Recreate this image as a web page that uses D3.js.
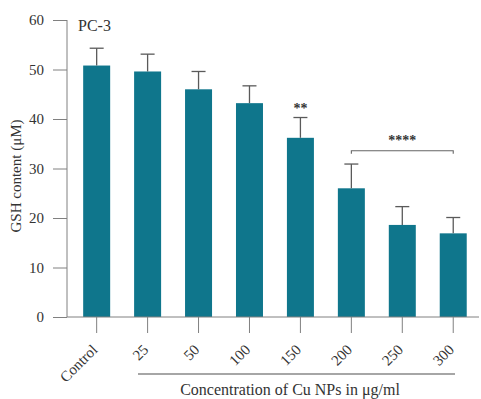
<!DOCTYPE html>
<html><head><meta charset="utf-8">
<script src="https://cdn.jsdelivr.net/npm/d3@7"></script>
<style>body{margin:0;background:#fff}svg{display:block}text{font-family:"Liberation Serif","Times New Roman",serif;fill:#333}</style>
</head><body><svg id="c" width="481" height="399"></svg>
<script>
const categories = ["Control","25","50","100","150","200","250","300"];
const means = [50.8, 49.6, 46.0, 43.2, 36.2, 26.0, 18.6, 16.9];
const errors = [3.5, 3.5, 3.6, 3.5, 4.1, 4.9, 3.7, 3.2];
const yTicks = [0,10,20,30,40,50,60];

const svg = d3.select("#c");
const x = d3.scaleBand().domain(categories).range([71.2, 478.7]).paddingInner(0.47).paddingOuter(0.235);
const y = d3.scaleLinear().domain([0,60]).range([317,20]);
const axisColor = "#808080";

// bars
svg.selectAll("rect.bar").data(categories).join("rect")
  .attr("x", d=>x(d)).attr("width", x.bandwidth())
  .attr("y", (d,i)=>y(means[i])).attr("height",(d,i)=>y(0)-y(means[i]))
  .attr("fill","#0f768c");

// error bars
const eb = svg.append("g").attr("stroke","#5a5a5a").attr("stroke-width",1.3);
categories.forEach((c,i)=>{
  const cx = x(c)+x.bandwidth()/2;
  eb.append("line").attr("x1",cx).attr("x2",cx).attr("y1",y(means[i])).attr("y2",y(means[i]+errors[i]));
  eb.append("line").attr("x1",cx-7).attr("x2",cx+7).attr("y1",y(means[i]+errors[i])).attr("y2",y(means[i]+errors[i]));
});

// y axis
const ya = svg.append("g").attr("transform","translate(67,0)")
  .call(d3.axisLeft(y).tickValues(yTicks).tickSize(14).tickPadding(9));
ya.select(".domain").attr("stroke",axisColor).attr("d","M0,"+y(60)+"V"+y(0));
ya.selectAll(".tick line").attr("stroke",axisColor);
ya.selectAll(".tick text").attr("font-size",15).style("font-family","Liberation Serif").attr("fill","#555");

// x axis
const xa = svg.append("g").attr("transform","translate(0,317)")
  .call(d3.axisBottom(x).tickSize(16).tickPadding(4));
xa.select(".domain").attr("stroke",axisColor).attr("d","M67,0H479");
xa.selectAll(".tick line").attr("stroke",axisColor);
xa.selectAll(".tick text").attr("font-size",15).style("font-family","Liberation Serif").attr("fill","#555")
  .attr("text-anchor","end").attr("dy","0.35em")
  .attr("transform","translate(-2,30) rotate(-45)").attr("y",0).attr("x",0);

// group line under labels
svg.append("line").attr("x1",138).attr("x2",455).attr("y1",374).attr("y2",374).attr("stroke","#888").attr("stroke-width",1.3);
svg.append("text").attr("x",290).attr("y",395).attr("text-anchor","middle")
  .attr("font-size",16).text("Concentration of Cu NPs in μg/ml");

// y label
svg.append("text").attr("transform","translate(21,176) rotate(-90)").attr("text-anchor","middle")
  .attr("font-size",15).text("GSH content (μM)");

// title
svg.append("text").attr("x",78).attr("y",31).attr("font-size",16).text("PC-3");

// significance
const c150 = x("150")+x.bandwidth()/2;
svg.append("text").attr("x",c150).attr("y",y(means[4]+errors[4])-5).attr("text-anchor","middle").attr("font-size",14).attr("font-weight","bold").text("**");
const bx1 = x("200")+x.bandwidth()/2, bx2 = x("300")+x.bandwidth()/2, by = 150.7;
svg.append("path").attr("d",`M${bx1},${by+3}V${by}H${bx2}V${by+3}`).attr("fill","none").attr("stroke","#666").attr("stroke-width",1.1);
svg.append("text").attr("x",(bx1+bx2)/2).attr("y",by-6).attr("text-anchor","middle").attr("font-size",14).attr("font-weight","bold").text("****");
</script></body></html>
